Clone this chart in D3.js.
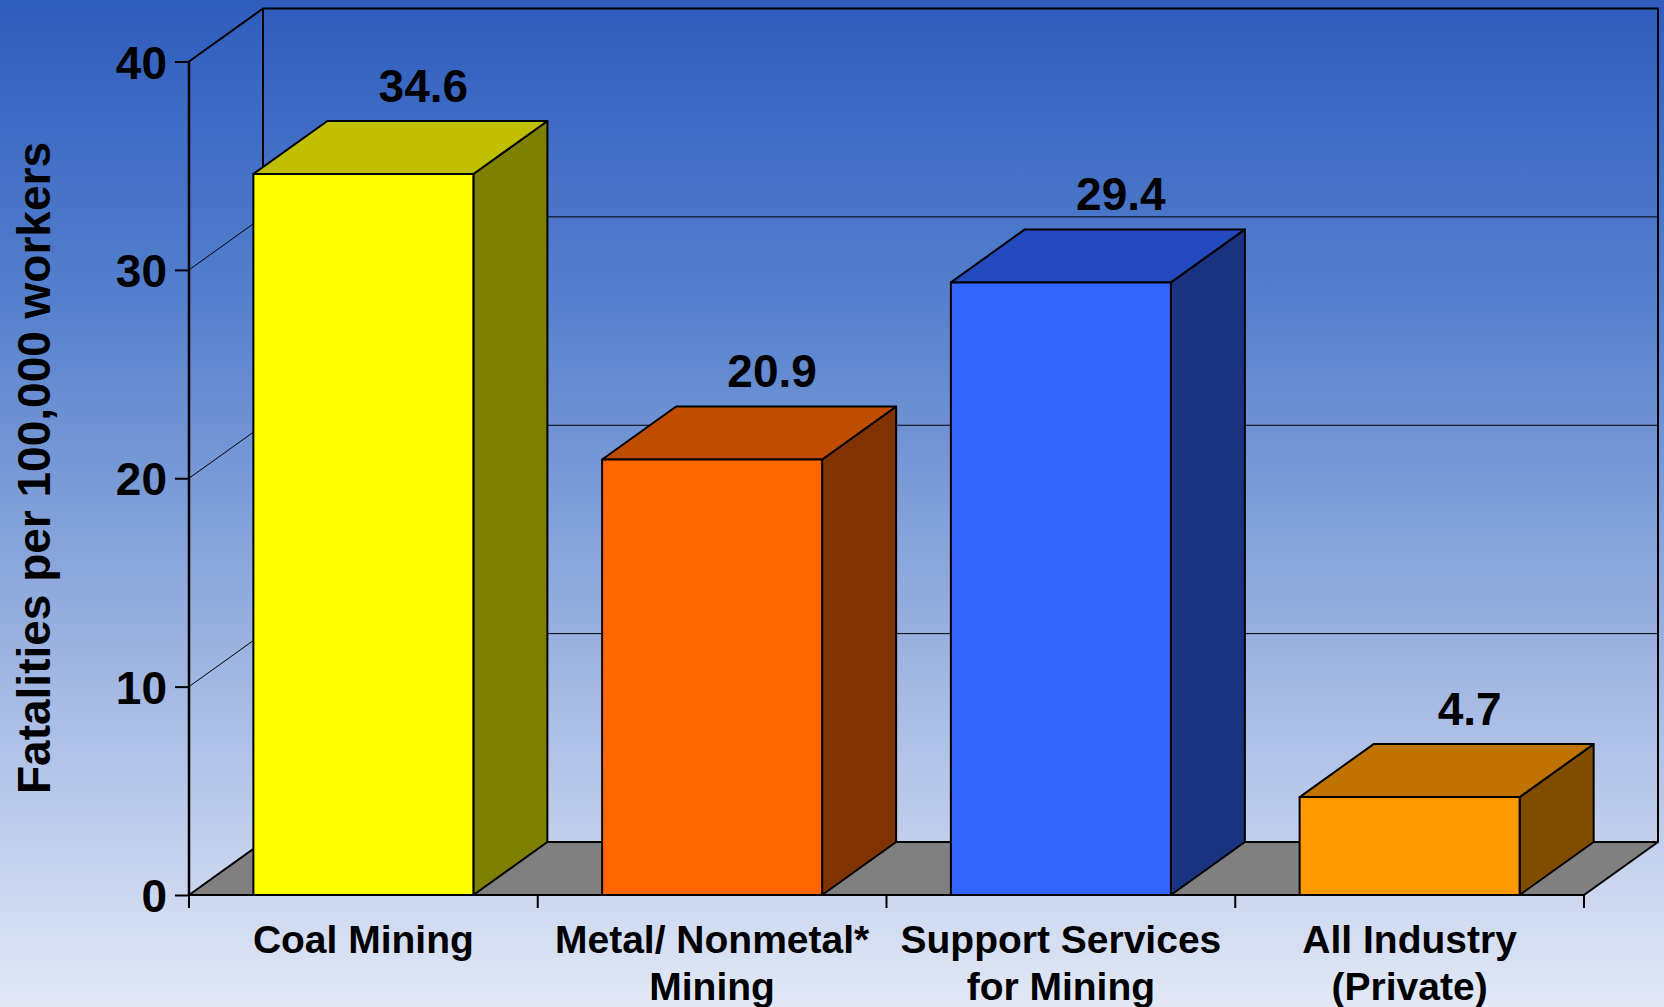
<!DOCTYPE html>
<html>
<head>
<meta charset="utf-8">
<script src="https://cdn.jsdelivr.net/npm/d3@7/dist/d3.min.js"></script>
<style>
  html, body { margin: 0; padding: 0; background: #ffffff; }
  svg { display: block; }
  text { font-family: "Liberation Sans", Arial, sans-serif; font-weight: bold; fill: #000; }
</style>
</head>
<body>
<svg id="chart" width="1664" height="1007"></svg>
<script>
// ---- data ----
const categories = ["Coal Mining", "Metal/ Nonmetal* Mining", "Support Services for Mining", "All Industry (Private)"];
const categoryLines = [["Coal Mining"], ["Metal/ Nonmetal*", "Mining"], ["Support Services", "for Mining"], ["All Industry", "(Private)"]];
const values = [34.6, 20.9, 29.4, 4.7];
const valueLabels = ["34.6", "20.9", "29.4", "4.7"];
const yTicks = [0, 10, 20, 30, 40];
const yTitle = "Fatalities per 100,000 workers";

// ---- styles ----
const frontColors = ["#FFFF00", "#FF6600", "#3366FF", "#FF9900"];
const topColors   = ["#C0C000", "#C04C00", "#244AC0", "#C07300"];
const sideColors  = ["#808000", "#803300", "#1A3380", "#804C00"];

const W = 1664, H = 1007;
const svg = d3.select("#chart");

// background gradient
const defs = svg.append("defs");
const grad = defs.append("linearGradient").attr("id", "bg").attr("x1", 0).attr("y1", 0).attr("x2", 0).attr("y2", 1);
grad.append("stop").attr("offset", "0%").attr("stop-color", "#2F5DBE");
grad.append("stop").attr("offset", "30%").attr("stop-color", "#5580CD");
grad.append("stop").attr("offset", "60%").attr("stop-color", "#93ACDE");
grad.append("stop").attr("offset", "100%").attr("stop-color", "#E2E8F6");
svg.append("rect").attr("width", W).attr("height", H).attr("fill", "url(#bg)");

// scales
const x = d3.scaleBand().domain(categories).range([189, 1584]).paddingInner(0).paddingOuter(0);
const y = d3.scaleLinear().domain([0, 40]).range([895, 61.5]);
const DX = 74, DY = -53;
const barW = 220;
const xL = x.range()[0], xR = x.range()[1];

// back wall gridlines (10,20,30) and side-wall diagonals
const grid = svg.append("g");
yTicks.filter(t => t > 0 && t < 40).forEach(t => {
  grid.append("line").attr("x1", xL + DX).attr("x2", xR + DX)
    .attr("y1", y(t) + DY).attr("y2", y(t) + DY)
    .attr("stroke", "#000").attr("stroke-width", 1);
  grid.append("line").attr("x1", xL).attr("x2", xL + DX)
    .attr("y1", y(t)).attr("y2", y(t) + DY)
    .attr("stroke", "#000").attr("stroke-width", 1);
});
// wall frame
const frame = svg.append("g").attr("fill", "none").attr("stroke", "#000").attr("stroke-width", 2);
frame.append("path").attr("d",
  `M${xL},${y(40)} L${xL + DX},${y(40) + DY} L${xR + DX},${y(40) + DY} L${xR + DX},${y(0) + DY}`);
frame.append("line").attr("x1", xL + DX).attr("x2", xL + DX).attr("y1", y(40) + DY).attr("y2", y(0) + DY);

// floor
svg.append("path")
  .attr("d", `M${xL},${y(0)} L${xR},${y(0)} L${xR + DX},${y(0) + DY} L${xL + DX},${y(0) + DY} Z`)
  .attr("fill", "#808080").attr("stroke", "#000").attr("stroke-width", 2).attr("stroke-linejoin", "round");

// bars
const bars = svg.append("g").attr("stroke", "#000").attr("stroke-width", 2).attr("stroke-linejoin", "round");
categories.forEach((c, i) => {
  const x0 = x(c) + (x.bandwidth() - barW) / 2, x1 = x0 + barW;
  const yt = y(values[i]), yb = y(0);
  bars.append("path").attr("fill", sideColors[i])
    .attr("d", `M${x1},${yt} L${x1 + DX},${yt + DY} L${x1 + DX},${yb + DY} L${x1},${yb} Z`);
  bars.append("path").attr("fill", topColors[i])
    .attr("d", `M${x0},${yt} L${x1},${yt} L${x1 + DX},${yt + DY} L${x0 + DX},${yt + DY} Z`);
  bars.append("rect").attr("fill", frontColors[i])
    .attr("x", x0).attr("y", yt).attr("width", barW).attr("height", yb - yt);
  svg.append("text").attr("x", (x0 + x1) / 2 + 60).attr("y", yt + DY - 19)
    .attr("text-anchor", "middle").attr("font-size", 46).text(valueLabels[i]);
});

// y axis
const yAxis = d3.axisLeft(y).tickValues(yTicks).tickSize(14).tickPadding(8).tickFormat(d3.format("d"));
const ya = svg.append("g").attr("transform", `translate(${xL},0)`).call(yAxis);
ya.select(".domain").attr("stroke", "#000").attr("stroke-width", 2.5).attr("d", `M0,${y(40)}V${y(0)}`);
ya.selectAll(".tick line").attr("stroke", "#000").attr("stroke-width", 2);
ya.selectAll(".tick text").attr("font-family", "Liberation Sans, Arial, sans-serif")
  .attr("font-weight", "bold").attr("font-size", 46).attr("fill", "#000").attr("dy", "0.36em");

// x axis baseline ticks at category boundaries
const xb = svg.append("g").attr("stroke", "#000").attr("stroke-width", 2);
xb.append("line").attr("x1", xL).attr("x2", xR).attr("y1", y(0)).attr("y2", y(0));
const bounds = categories.map(c => x(c)).concat([xR]);
bounds.forEach(b => {
  xb.append("line").attr("x1", b).attr("x2", b).attr("y1", y(0)).attr("y2", y(0) + 13);
});

// category labels
categories.forEach((c, i) => {
  const t = svg.append("text").attr("x", x(c) + x.bandwidth() / 2).attr("y", 953)
    .attr("text-anchor", "middle").attr("font-size", 39);
  categoryLines[i].forEach((line, j) => {
    t.append("tspan").attr("x", x(c) + x.bandwidth() / 2).attr("dy", j === 0 ? 0 : 47).text(line);
  });
});

// y title
svg.append("text").attr("transform", "translate(50,468) rotate(-90)")
  .attr("text-anchor", "middle").attr("font-size", 46).text(yTitle);
</script>
</body>
</html>
